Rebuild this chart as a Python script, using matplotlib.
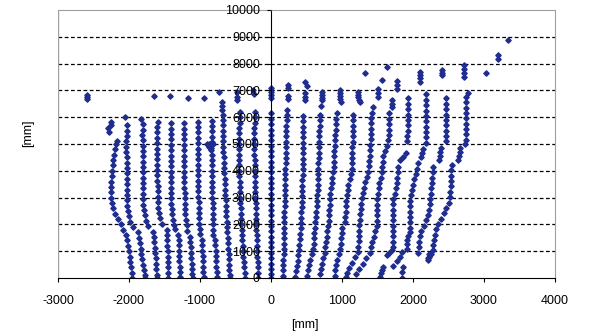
import matplotlib
matplotlib.use('Agg')
import matplotlib.pyplot as plt

# measured points [mm], one list per vertical scan column (x, y)
c00 = [(-2250, 5830), (-2255, 5700), (-2290, 5580), (-2280, 5460)]
c01 = [(-1953, 0), (-1962, 200), (-1971, 400), (-1979, 600), (-1987, 800), (-1995, 1000),
       (-2010, 1200), (-2025, 1400), (-2049, 1600), (-2083, 1800), (-2117, 2000), (-2154, 2200),
       (-2191, 2400), (-2219, 2600), (-2238, 2800), (-2257, 3000), (-2255, 3200), (-2254, 3400),
       (-2249, 3600), (-2242, 3800), (-2234, 4000), (-2228, 4200), (-2223, 4400), (-2212, 4600),
       (-2197, 4800), (-2182, 5000), (-2170, 5100)]
c02 = [(-2025, 5700), (-2030, 5500), (-2035, 5300), (-2040, 5100), (-2040, 4900), (-2038, 4700),
       (-2035, 4500), (-2032, 4300), (-2032, 4100), (-2030, 3900), (-2030, 3700), (-2028, 3500),
       (-2028, 3300), (-2030, 3100), (-2030, 2900), (-2028, 2700), (-2020, 2500), (-2005, 2300),
       (-1980, 2100), (-1950, 1900), (-1868, 1700), (-1857, 1500), (-1846, 1300), (-1835, 1100),
       (-1824, 900), (-1813, 700), (-1802, 500), (-1791, 300), (-1780, 100), (-1774, 0)]
c03 = [(-1800, 5740), (-1805, 5540), (-1810, 5340), (-1808, 5140), (-1806, 4940), (-1806, 4740),
       (-1806, 4540), (-1806, 4340), (-1806, 4140), (-1806, 3940), (-1804, 3740), (-1802, 3540),
       (-1800, 3340), (-1800, 3140), (-1800, 2940), (-1798, 2740), (-1790, 2540), (-1775, 2340),
       (-1755, 2140), (-1735, 1940), (-1657, 1730), (-1650, 1530), (-1643, 1330), (-1636, 1130),
       (-1630, 930), (-1624, 730), (-1618, 530), (-1613, 330), (-1610, 130), (-1609, 0)]
c04 = [(-1595, 5830), (-1600, 5630), (-1602, 5430), (-1605, 5230), (-1605, 5030), (-1603, 4830),
       (-1601, 4630), (-1601, 4430), (-1601, 4230), (-1601, 4030), (-1600, 3830), (-1600, 3630),
       (-1598, 3430), (-1598, 3230), (-1596, 3030), (-1594, 2830), (-1590, 2630), (-1580, 2430),
       (-1562, 2230), (-1540, 2030), (-1469, 1800), (-1466, 1600), (-1463, 1400), (-1460, 1200),
       (-1457, 1000), (-1454, 800), (-1451, 600), (-1449, 400), (-1447, 200), (-1446, 0)]
c05 = [(-1410, 5770), (-1412, 5570), (-1414, 5370), (-1414, 5170), (-1412, 4970), (-1412, 4770),
       (-1412, 4570), (-1412, 4370), (-1410, 4170), (-1410, 3970), (-1410, 3770), (-1408, 3570),
       (-1408, 3370), (-1406, 3170), (-1405, 2970), (-1403, 2770), (-1400, 2570), (-1395, 2370),
       (-1385, 2170), (-1370, 1970), (-1352, 1820), (-1305, 1620), (-1302, 1420), (-1299, 1220),
       (-1296, 1020), (-1293, 820), (-1290, 620), (-1287, 420), (-1284, 220), (-1281, 20)]
c06 = [(-1222, 5770), (-1225, 5570), (-1226, 5370), (-1226, 5170), (-1225, 4970), (-1225, 4770),
       (-1225, 4570), (-1224, 4370), (-1224, 4170), (-1223, 3970), (-1222, 3770), (-1221, 3570),
       (-1220, 3370), (-1218, 3170), (-1216, 2970), (-1214, 2770), (-1211, 2570), (-1207, 2370),
       (-1200, 2170), (-1190, 1970), (-1178, 1770), (-1140, 1540), (-1135, 1340), (-1130, 1140),
       (-1125, 940), (-1120, 740), (-1115, 540), (-1110, 340), (-1107, 140), (-1105, 0)]
c07 = [(-1030, 5830), (-1032, 5630), (-1034, 5430), (-1034, 5230), (-1033, 5030), (-1032, 4830),
       (-1032, 4630), (-1031, 4430), (-1030, 4230), (-1030, 4030), (-1028, 3830), (-1027, 3630),
       (-1026, 3430), (-1024, 3230), (-1022, 3030), (-1020, 2830), (-1018, 2630), (-1015, 2430),
       (-1012, 2230), (-1008, 2030), (-1004, 1830), (-1000, 1630), (-976, 1420), (-972, 1220),
       (-968, 1020), (-964, 820), (-960, 620), (-956, 420), (-952, 220), (-950, 20)]
c08 = [(-832, 5870), (-835, 5670), (-836, 5470), (-836, 5270), (-835, 5070), (-900, 4990),
       (-870, 4990), (-840, 4990), (-815, 4990), (-880, 4900), (-850, 4860), (-845, 4780),
       (-835, 4600), (-834, 4400), (-834, 4200), (-833, 4000), (-832, 3800), (-830, 3600),
       (-828, 3400), (-826, 3200), (-824, 3000), (-822, 2800), (-820, 2600), (-818, 2400),
       (-816, 2200), (-814, 2000), (-812, 1800), (-810, 1600), (-788, 1420), (-784, 1220),
       (-780, 1020), (-777, 820), (-773, 620), (-770, 420), (-767, 220), (-765, 20)]
c09 = [(-694, 6580), (-690, 6420), (-686, 6260), (-680, 6100), (-676, 5900), (-674, 5700),
       (-672, 5500), (-672, 5300), (-672, 5100), (-672, 4900), (-670, 4700), (-668, 4500),
       (-665, 4300), (-660, 4100), (-656, 3900), (-652, 3700), (-648, 3500), (-646, 3300),
       (-644, 3100), (-640, 2900), (-636, 2700), (-632, 2500), (-628, 2300), (-624, 2100),
       (-620, 1900), (-615, 1700), (-610, 1500), (-606, 1300), (-602, 1100), (-598, 900),
       (-594, 700), (-590, 500), (-585, 300), (-580, 100), (-577, 0)]
c10 = [(-440, 6200), (-440, 6000), (-442, 5800), (-444, 5600), (-446, 5400), (-448, 5200),
       (-450, 5000), (-452, 4800), (-452, 4600), (-450, 4400), (-448, 4200), (-446, 4000),
       (-444, 3800), (-442, 3600), (-440, 3400), (-438, 3200), (-435, 3000), (-432, 2800),
       (-428, 2600), (-424, 2400), (-420, 2200), (-416, 2000), (-412, 1800), (-408, 1600),
       (-403, 1400), (-398, 1200), (-393, 1000), (-388, 800), (-383, 600), (-378, 400),
       (-372, 200), (-366, 0)]
c11 = [(-228, 6200), (-230, 6000), (-232, 5800), (-234, 5600), (-236, 5400), (-236, 5200),
       (-236, 5000), (-235, 4800), (-234, 4600), (-232, 4400), (-230, 4200), (-228, 4000),
       (-226, 3800), (-225, 3600), (-224, 3400), (-222, 3200), (-220, 3000), (-218, 2800),
       (-216, 2600), (-214, 2400), (-212, 2200), (-210, 2000), (-207, 1800), (-204, 1600),
       (-201, 1400), (-198, 1200), (-195, 1000), (-192, 800), (-189, 600), (-186, 400),
       (-182, 200), (-179, 0)]
c12 = [(-4, 6140), (-2, 5940), (0, 5740), (-4, 5540), (-6, 5340), (-4, 5140), (-2, 4940),
       (0, 4740), (-2, 4540), (-4, 4340), (-6, 4140), (-4, 3940), (-2, 3740), (0, 3540),
       (-2, 3340), (-4, 3140), (-6, 2940), (-4, 2740), (-2, 2540), (0, 2340), (-2, 2140),
       (-4, 1940), (-6, 1740), (-4, 1540), (-2, 1340), (0, 1140), (-2, 940), (-4, 740),
       (-6, 540), (-4, 340), (-2, 140), (0, 0)]
c13 = [(221, 6080), (219, 5880), (218, 5680), (216, 5480), (214, 5280), (212, 5080), (211, 4880),
       (209, 4680), (207, 4480), (206, 4280), (204, 4080), (202, 3880), (200, 3680), (199, 3480),
       (197, 3280), (195, 3080), (194, 2880), (192, 2680), (190, 2480), (189, 2280), (187, 2080),
       (185, 1880), (183, 1680), (182, 1480), (180, 1280), (178, 1080), (177, 880), (175, 680),
       (173, 480), (172, 280), (170, 80), (169, 0)]
c14 = [(455, 6050), (454, 5850), (453, 5650), (452, 5450), (451, 5250), (450, 5050), (449, 4850),
       (448, 4650), (447, 4450), (446, 4250), (446, 4050), (444, 3850), (441, 3650), (439, 3450),
       (437, 3250), (434, 3050), (432, 2850), (430, 2650), (427, 2450), (425, 2250), (422, 2050),
       (418, 1850), (413, 1650), (407, 1450), (401, 1250), (395, 1050), (386, 850), (375, 650),
       (363, 450), (350, 250), (340, 50)]
c15 = [(690, 6080), (688, 5880), (685, 5680), (683, 5480), (681, 5280), (678, 5080), (676, 4880),
       (674, 4680), (671, 4480), (669, 4280), (667, 4080), (664, 3880), (662, 3680), (659, 3480),
       (656, 3280), (653, 3080), (648, 2880), (642, 2680), (636, 2480), (629, 2280), (623, 2080),
       (616, 1880), (610, 1680), (605, 1480), (599, 1280), (593, 1080), (578, 880), (555, 680),
       (533, 480), (520, 280), (507, 80)]
c16 = [(925, 6140), (920, 5940), (916, 5740), (912, 5540), (907, 5340), (903, 5140), (898, 4940),
       (894, 4740), (890, 4540), (885, 4340), (881, 4140), (876, 3940), (866, 3740), (857, 3540),
       (847, 3340), (838, 3140), (830, 2940), (825, 2740), (820, 2540), (815, 2340), (810, 2140),
       (804, 1940), (795, 1740), (785, 1540), (776, 1340), (766, 1140), (755, 940), (738, 740),
       (721, 540), (708, 340), (697, 140)]
c17 = [(1159, 6080), (1157, 5880), (1155, 5680), (1152, 5480), (1150, 5280), (1148, 5080),
       (1146, 4880), (1144, 4680), (1141, 4480), (1139, 4280), (1137, 4080), (1125, 3880),
       (1106, 3680), (1088, 3480), (1078, 3280), (1069, 3080), (1063, 2880), (1058, 2680),
       (1054, 2480), (1049, 2280), (1044, 2080), (1000, 1880), (993, 1680), (988, 1480),
       (982, 1280), (975, 1080), (960, 880), (935, 680), (918, 480), (908, 280), (898, 80)]
c18 = [(1418, 6170), (1415, 5970), (1412, 5770), (1409, 5570), (1406, 5370), (1403, 5170),
       (1400, 4970), (1394, 4770), (1388, 4570), (1382, 4370), (1376, 4170), (1368, 3970),
       (1348, 3770), (1330, 3570), (1314, 3370), (1298, 3170), (1282, 2970), (1272, 2770),
       (1264, 2570), (1256, 2370), (1249, 2170), (1242, 1970), (1239, 1770), (1237, 1570),
       (1234, 1370), (1232, 1170), (1230, 970), (1190, 770), (1140, 570), (1100, 370),
       (1075, 170), (1060, 20)]
c19 = [(1666, 6140), (1663, 5940), (1660, 5740), (1658, 5540), (1655, 5340), (1650, 5140),
       (1635, 4940), (1600, 4740), (1576, 4540), (1572, 4340), (1568, 4140), (1563, 3940),
       (1545, 3740), (1527, 3540), (1516, 3340), (1505, 3140), (1494, 2940), (1488, 2740),
       (1488, 2540), (1488, 2340), (1488, 2140), (1487, 1940), (1460, 1740), (1444, 1540),
       (1428, 1340), (1411, 1140), (1394, 940), (1335, 740), (1290, 540), (1245, 340),
       (1200, 140)]
c20 = [(1935, 6700), (1934, 6500), (1932, 6300), (1930, 6100), (1928, 5900), (1926, 5700),
       (1924, 5500), (1922, 5300), (1920, 5100), (1900, 4660), (1860, 4530), (1816, 4400),
       (1788, 4150), (1782, 3950), (1776, 3750), (1770, 3550), (1755, 3350), (1740, 3150),
       (1725, 2950), (1722, 2750), (1722, 2550), (1722, 2350), (1722, 2150), (1722, 1950),
       (1722, 1750), (1722, 1550), (1722, 1350), (1722, 1170), (1700, 1050), (1665, 950),
       (1635, 850), (1581, 420), (1565, 300), (1550, 180), (1535, 50)]
c21 = [(2182, 6850), (2182, 6650), (2182, 6450), (2182, 6250), (2182, 6050), (2182, 5850),
       (2182, 5650), (2182, 5450), (2182, 5250), (2182, 5050), (2140, 4800), (2125, 4650),
       (2110, 4500), (2074, 4280), (2055, 4080), (2037, 3880), (2018, 3680), (2000, 3480),
       (1985, 3280), (1970, 3080), (1957, 2880), (1957, 2680), (1957, 2480), (1957, 2280),
       (1957, 2080), (1957, 1880), (1957, 1730), (1935, 1580), (1911, 1420), (1915, 1260),
       (1920, 1100), (1840, 980), (1816, 800), (1770, 620), (1725, 440), (1863, 420),
       (1852, 220), (1840, 0)]
c22 = [(2460, 6700), (2460, 6500), (2460, 6300), (2460, 6100), (2460, 5900), (2460, 5700),
       (2460, 5500), (2460, 5300), (2460, 5100), (2400, 4850), (2385, 4700), (2375, 4550),
       (2365, 4400), (2286, 4150), (2280, 3950), (2272, 3750), (2264, 3550), (2256, 3350),
       (2249, 3150), (2241, 2950), (2233, 2750), (2225, 2550), (2217, 2350), (2190, 2150),
       (2150, 1950), (2110, 1750), (2095, 1550), (2088, 1350), (2081, 1150), (2075, 950),
       (2230, 900), (2225, 780), (2215, 670)]
c23 = [(2778, 6890), (2750, 6760), (2745, 6560), (2743, 6360), (2741, 6160), (2741, 5960),
       (2741, 5760), (2741, 5560), (2741, 5360), (2741, 5160), (2735, 5000), (2665, 4850),
       (2655, 4700), (2648, 4550), (2640, 4400), (2544, 4215), (2540, 4015), (2537, 3815),
       (2533, 3615), (2530, 3415), (2526, 3215), (2522, 3015), (2510, 2815), (2470, 2615),
       (2430, 2415), (2390, 2215), (2350, 2015), (2325, 1815), (2305, 1615), (2290, 1415),
       (2286, 1215), (2286, 1045), (2250, 900), (2215, 735)]
# loose points above the columns
tops = [(-2586, 6830), (-2586, 6750), (-2586, 6680), (-2056, 5990), (-1830, 5920),
        (-1647, 6800), (-1422, 6800), (-1164, 6715), (-943, 6725), (-728, 6950),
        (-483, 6950), (-483, 6760), (-483, 6640), (-249, 7010), (-245, 6880),
        (-4, 7075), (-4, 6950), (-4, 6820), (-4, 6700),
        (244, 7200), (244, 7080), (244, 6800), (244, 6680), (225, 6270),
        (479, 7320), (500, 7180), (479, 6900), (479, 6770), (479, 6640),
        (714, 6940), (714, 6830), (714, 6720), (714, 6640), (700, 6420),
        (972, 7010), (972, 6900), (972, 6790), (972, 6680), (985, 6570),
        (1230, 6940), (1230, 6840), (1230, 6740), (1240, 6640), (1250, 6570),
        (1324, 7660), (1512, 7050), (1500, 6900), (1512, 6750), (1441, 6370),
        (1559, 7390), (1629, 7880), (1779, 7360), (1779, 7200), (1770, 7040),
        (1700, 6640), (1700, 6510), (1710, 6390),
        (2098, 7700), (2098, 7580), (2098, 7450), (2098, 7320),
        (2404, 7760), (2404, 7660), (2404, 7570),
        (2717, 7945), (2717, 7800), (2717, 7650), (2717, 7510),
        (3027, 7660), (3191, 8320), (3191, 8160), (3333, 8880)]

columns = [c00, c01, c02, c03, c04, c05, c06, c07, c08, c09, c10, c11, c12,
           c13, c14, c15, c16, c17, c18, c19, c20, c21, c22, c23, tops]

navy = '#1f2d8f'
grey = '#a0a0a0'
plt.rcParams['font.family'] = ['Liberation Sans', 'DejaVu Sans']
plt.rcParams['axes.unicode_minus'] = False

fig = plt.figure(figsize=(5.89, 3.35), dpi=100)
ax = fig.add_axes([58 / 589, 57 / 335, 497 / 589, 268 / 335])

for col in columns:
    xs, ys = zip(*col)
    ax.plot(xs, ys, linestyle='none', marker='D', ms=2.8, color=navy, mec=navy, mew=0.9, zorder=2)

ax.set_xlim(-3000, 4000)
ax.set_ylim(0, 10000)
ax.set_xticks(range(-3000, 4001, 1000))
ax.set_yticks(range(0, 10001, 1000))

for yv in range(1000, 10000, 1000):
    ax.axhline(yv, color='black', lw=0.9, ls=(0, (3, 2)), zorder=1)
ax.axvline(-3000, color=grey, lw=1, zorder=1)

ax.spines['left'].set_position(('data', 0))
ax.spines['left'].set_color('black')
ax.spines['bottom'].set_color('black')
ax.spines['top'].set_color(grey)
ax.spines['right'].set_color(grey)
ax.set_axisbelow(False)

ax.tick_params(axis='x', direction='out', length=3, width=0.8, pad=9, labelsize=9)
ax.tick_params(axis='y', direction='out', length=3, width=0.8, pad=5, labelsize=9)

fig.text(305 / 589, 1 - 325 / 335, '[mm]', ha='center', va='center', fontsize=9)
fig.text(28 / 589, 1 - 133 / 335, '[mm]', ha='center', va='center', rotation=90, fontsize=9)

plt.savefig('out.png', dpi=100)
plt.close(fig)
